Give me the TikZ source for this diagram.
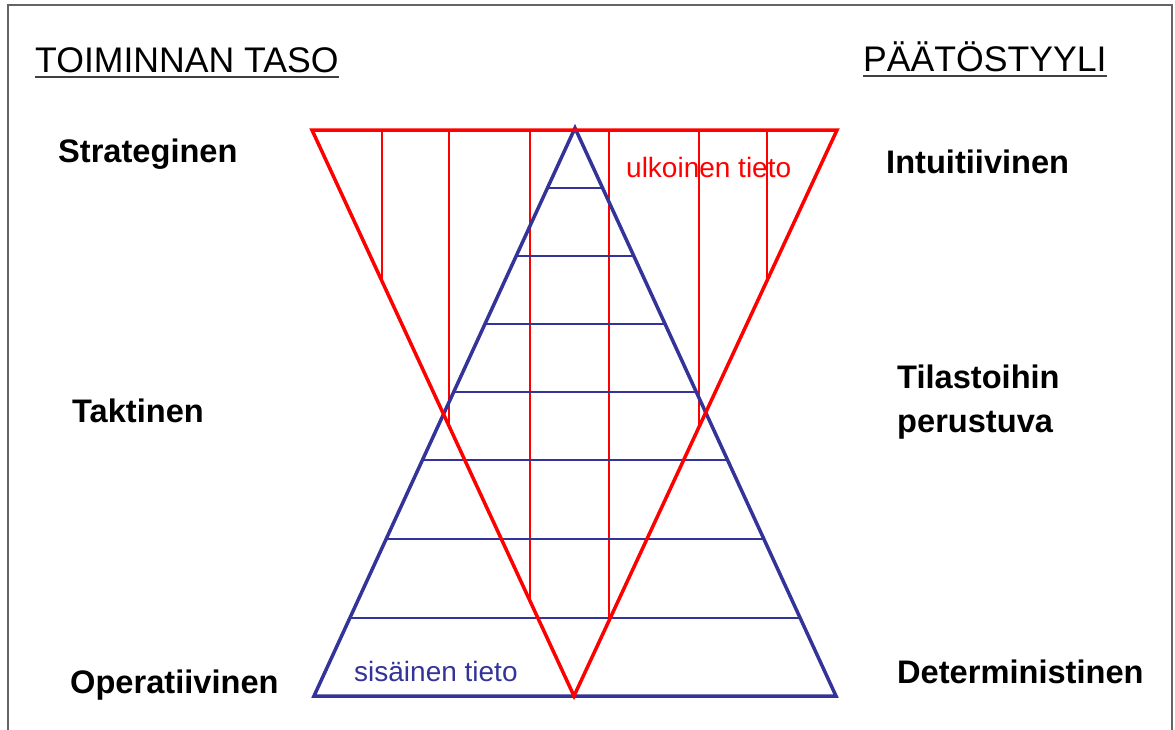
\documentclass[tikz,border=0pt]{standalone}
\usepackage{fontspec}
\setmainfont{Liberation Sans}
\usetikzlibrary{intersections}
\definecolor{navy}{RGB}{51,51,153}
\definecolor{pured}{RGB}{255,0,0}
\definecolor{framegray}{RGB}{100,100,100}
\begin{document}
\begin{tikzpicture}[x=1pt,y=-1pt,
  heading/.style={anchor=base west,inner sep=0pt,font=\fontsize{35.6}{40}\selectfont},
  level/.style={anchor=base west,inner sep=0pt,align=left,font=\fontsize{32.6}{44}\selectfont\bfseries},
  infolabel/.style={anchor=base west,inner sep=0pt,font=\fontsize{28}{32}\selectfont},
  redthick/.style={draw=pured,line width=3.5pt,line join=miter},
  bluethick/.style={draw=navy,line width=3.5pt,line join=miter},
  redthin/.style={draw=pured,line width=1.6pt},
  bluethin/.style={draw=navy,line width=1.6pt},
  uline/.style={draw=black!75,line width=2pt},
  frameline/.style={draw=framegray,line width=2pt}]
\useasboundingbox (0,0) rectangle (1175,729);
\draw[frameline] (8,5) rectangle (1172,740);

% headings
\node[heading] (h1) at (35,72) {TOIMINNAN TASO};
\node[heading] (h2) at (863,71) {PÄÄTÖSTYYLI};
\draw[uline] ([yshift=-5pt]h1.base west) -- ([yshift=-5pt]h1.base east);
\draw[uline] ([yshift=-5pt]h2.base west) -- ([yshift=-5pt]h2.base east);

% left labels
\node[level] (strat) at (58,162) {Strateginen};
\node[level] (takt) at (72,422) {Taktinen};
\node[level] (oper) at (70,693) {Operatiivinen};
% right labels
\node[level] (intu) at (886,173) {Intuitiivinen};
\node[level] (tila) at (897,432) {Tilastoihin\\perustuva};
\node[level] (dete) at (897,683) {Deterministinen};

% triangle corners
\coordinate (R1) at (312,130);
\coordinate (R2) at (837,130);
\coordinate (R3) at (574,696);
\coordinate (B1) at (575,128);
\coordinate (B2) at (314,696);
\coordinate (B3) at (836,696);
\path[name path=rl] (R1) -- (R3);
\path[name path=rr] (R2) -- (R3);
\path[name path=bl] (B1) -- (B2);
\path[name path=br] (B1) -- (B3);

% red verticals
\foreach \x in {382,449,530} {
  \coordinate (vt) at (\x,130);
  \coordinate (vb) at (\x,700);
  \path[name path=v] (vt) -- (vb);
  \draw[redthin, name intersections={of=v and rl}] (vt) -- (intersection-1);
}
\foreach \x in {609,699,767} {
  \coordinate (vt) at (\x,130);
  \coordinate (vb) at (\x,700);
  \path[name path=v] (vt) -- (vb);
  \draw[redthin, name intersections={of=v and rr}] (vt) -- (intersection-1);
}
% blue horizontals
\foreach \y in {188,256,324,392,460,539,618} {
  \coordinate (hl) at (300,\y);
  \coordinate (hr) at (850,\y);
  \path[name path=h] (hl) -- (hr);
  \path[name intersections={of=h and bl,name=L}];
  \path[name intersections={of=h and br,name=R}];
  \draw[bluethin] (L-1) -- (R-1);
}

% triangles
\draw[bluethick] (B1) -- (B2) -- (B3) -- cycle;
\draw[redthick] (R1) -- (R2) -- (R3) -- cycle;

% info labels
\node[infolabel, text=pured] (ulk) at (626,177) {ulkoinen tieto};
\node[infolabel, text=navy] (sis) at (354,681) {sisäinen tieto};
\end{tikzpicture}
\end{document}
